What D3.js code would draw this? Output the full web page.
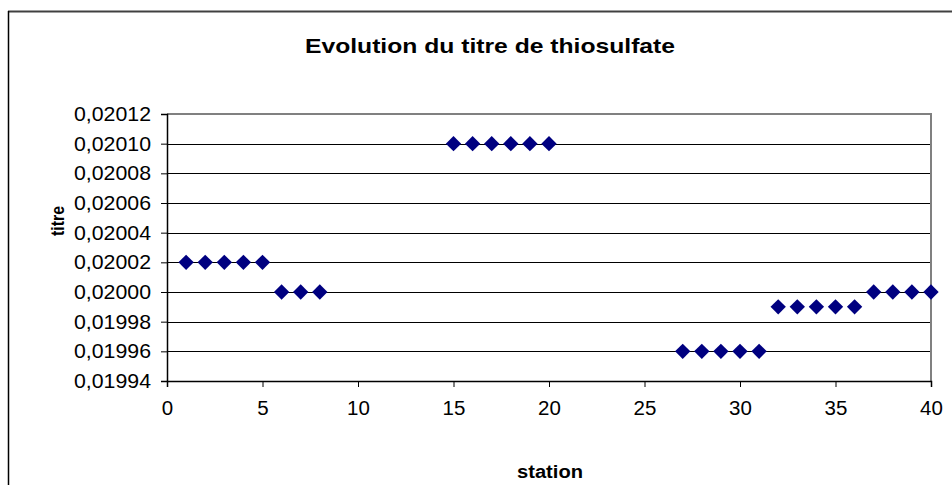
<!DOCTYPE html>
<html>
<head>
<meta charset="utf-8">
<script src="https://cdn.jsdelivr.net/npm/d3@7"></script>
<style>
  html, body { margin: 0; padding: 0; background: #fff; }
  svg { display: block; font-family: Arial, "Liberation Sans", sans-serif; }
</style>
</head>
<body>
<svg id="chart" width="952" height="485"></svg>
<script>
// Stations and titre of sodium thiosulfate measured at each one
const stations = [1, 2, 3, 4, 5, 6, 7, 8, 15, 16, 17, 18, 19, 20,
                  27, 28, 29, 30, 31, 32, 33, 34, 35, 36, 37, 38, 39, 40];
const titres = [0.02002, 0.02002, 0.02002, 0.02002, 0.02002,
                0.02000, 0.02000, 0.02000,
                0.02010, 0.02010, 0.02010, 0.02010, 0.02010, 0.02010,
                0.01996, 0.01996, 0.01996, 0.01996, 0.01996,
                0.01999, 0.01999, 0.01999, 0.01999, 0.01999,
                0.02000, 0.02000, 0.02000, 0.02000];
const xTicks = [0, 5, 10, 15, 20, 25, 30, 35, 40];
const yTicks = [0.01994, 0.01996, 0.01998, 0.02000, 0.02002, 0.02004,
                0.02006, 0.02008, 0.02010, 0.02012];

const svg = d3.select("#chart");
const plot = { left: 167, right: 931, top: 114, bottom: 381 };

const x = d3.scaleLinear().domain([0, 40]).range([plot.left, plot.right]);
const y = d3.scaleLinear().domain([0.01994, 0.02012]).range([plot.bottom, plot.top]);

// Chart frame
svg.append("line").attr("x1", 8).attr("x2", 952).attr("y1", 11.5).attr("y2", 11.5)
  .attr("stroke", "#404040").attr("stroke-width", 2);
svg.append("line").attr("x1", 8.5).attr("x2", 8.5).attr("y1", 11).attr("y2", 485)
  .attr("stroke", "#000").attr("stroke-width", 1.5);

// Title (slightly widened lettering)
svg.append("text").attr("x", 490).attr("y", 53).attr("text-anchor", "middle")
  .attr("font-weight", "bold").attr("font-size", 21)
  .attr("textLength", 370).attr("lengthAdjust", "spacingAndGlyphs")
  .text("Evolution du titre de thiosulfate");

// Horizontal gridlines
svg.append("g").selectAll("line").data(yTicks.slice(1, -1)).join("line")
  .attr("x1", plot.left).attr("x2", plot.right)
  .attr("y1", d => Math.round(y(d)) + 0.5).attr("y2", d => Math.round(y(d)) + 0.5)
  .attr("stroke", "#000").attr("stroke-width", 1);

// Plot-area border (top and right)
svg.append("path")
  .attr("d", `M${plot.left},${plot.top} H${plot.right} V${plot.bottom}`)
  .attr("fill", "none").attr("stroke", "#808080").attr("stroke-width", 2);

// Axes
const fmt = d => d3.format(".5f")(d).replace(".", ",");
const yAxis = svg.append("g").attr("transform", `translate(${plot.left},0)`)
  .call(d3.axisLeft(y).tickValues(yTicks).tickFormat(fmt).tickSize(6).tickPadding(10));
const xAxis = svg.append("g").attr("transform", `translate(0,${plot.bottom})`)
  .call(d3.axisBottom(x).tickValues(xTicks).tickFormat(d3.format("d")).tickSize(6).tickPadding(10));

[yAxis, xAxis].forEach(g => {
  g.select(".domain").attr("stroke", "#000").attr("stroke-width", 1.5);
  g.selectAll(".tick line").attr("stroke", "#000");
  g.selectAll(".tick text").attr("font-size", 20.5).attr("fill", "#000")
    .attr("font-family", "Arial, 'Liberation Sans', sans-serif");
});
yAxis.selectAll(".tick text").attr("textLength", 77).attr("lengthAdjust", "spacingAndGlyphs");
xAxis.selectAll(".tick text").attr("dy", "0.9em");

// Axis titles
svg.append("text").attr("transform", "translate(64,221) rotate(-90)")
  .attr("text-anchor", "middle").attr("font-weight", "bold").attr("font-size", 18)
  .attr("textLength", 30).attr("lengthAdjust", "spacingAndGlyphs").text("titre");
svg.append("text").attr("x", 550).attr("y", 478).attr("text-anchor", "middle")
  .attr("font-weight", "bold").attr("font-size", 18)
  .attr("textLength", 66).attr("lengthAdjust", "spacingAndGlyphs").text("station");

// Diamond markers
const diamond = d3.symbol().type(d3.symbolDiamond2).size(150);
svg.append("g").selectAll("path").data(stations).join("path")
  .attr("d", diamond)
  .attr("transform", (d, i) => `translate(${x(d)},${y(titres[i])})`)
  .attr("fill", "#000080");
</script>
</body>
</html>
